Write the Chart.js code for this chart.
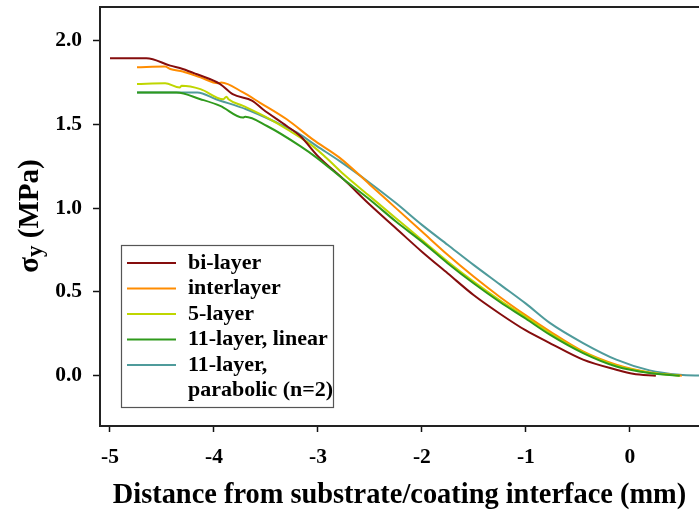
<!DOCTYPE html>
<html>
<head>
<meta charset="utf-8">
<script src="https://cdn.jsdelivr.net/npm/chart.js@4.4.1/dist/chart.umd.min.js"></script>
<style>
  html, body { margin: 0; padding: 0; background: #ffffff; }
  #wrap { width: 699px; height: 510px; }
</style>
</head>
<body>
<div id="wrap"><canvas id="c" width="699" height="510"></canvas></div>
<script>
// Normal stress sigma_y through the coating, for five grading schemes
const biX = [-5.0, -4.65, -4.42, -4.3, -4.17, -3.94, -3.82, -3.63, -3.53, -3.3, -3.17, -3.0, -2.75, -2.5, -2.25, -2.0, -1.75, -1.5, -1.25, -1.0, -0.77, -0.45, -0.13, 0.03, 0.25];
const biY = [1.894, 1.894, 1.85, 1.83, 1.80, 1.74, 1.68, 1.64, 1.59, 1.49, 1.43, 1.31, 1.17, 1.02, 0.88, 0.74, 0.61, 0.48, 0.37, 0.27, 0.195, 0.096, 0.036, 0.012, 0.0];

const interX = [-4.74, -4.47, -4.42, -4.3, -4.13, -3.96, -3.93, -3.72, -3.56, -3.3, -3.05, -2.79, -2.5, -2.25, -2.0, -1.75, -1.5, -1.25, -1.0, -0.77, -0.45, -0.13, 0.19, 0.5];
const interY = [1.84, 1.845, 1.83, 1.815, 1.78, 1.745, 1.75, 1.69, 1.63, 1.53, 1.41, 1.30, 1.14, 1.00, 0.86, 0.72, 0.59, 0.47, 0.36, 0.265, 0.145, 0.066, 0.02, 0.0];

const fiveX = [-4.74, -4.47, -4.33, -4.31, -4.13, -3.91, -3.88, -3.86, -3.72, -3.49, -3.27, -3.05, -2.92, -2.75, -2.5, -2.25, -2.0, -1.75, -1.5, -1.25, -1.0, -0.77, -0.45, -0.13, 0.19, 0.48];
const fiveY = [1.74, 1.745, 1.72, 1.73, 1.71, 1.65, 1.665, 1.65, 1.61, 1.54, 1.46, 1.37, 1.30, 1.20, 1.07, 0.94, 0.81, 0.68, 0.56, 0.45, 0.35, 0.255, 0.14, 0.06, 0.018, 0.0];

const linX = [-4.74, -4.36, -4.13, -3.94, -3.72, -3.70, -3.49, -3.17, -3.01, -2.75, -2.5, -2.25, -2.0, -1.75, -1.5, -1.25, -1.0, -0.77, -0.45, -0.13, 0.19, 0.48];
const linY = [1.69, 1.69, 1.65, 1.61, 1.54, 1.545, 1.49, 1.37, 1.30, 1.17, 1.05, 0.92, 0.80, 0.67, 0.55, 0.44, 0.34, 0.245, 0.135, 0.055, 0.016, 0.0];

const parX = [-4.74, -4.16, -3.98, -3.69, -3.43, -3.2, -3.01, -2.79, -2.5, -2.25, -2.0, -1.75, -1.5, -1.25, -1.0, -0.77, -0.45, -0.13, 0.19, 0.48, 0.7];
const parY = [1.69, 1.69, 1.65, 1.59, 1.52, 1.45, 1.37, 1.28, 1.15, 1.03, 0.90, 0.78, 0.66, 0.545, 0.43, 0.315, 0.195, 0.096, 0.032, 0.006, 0.0];

const seriesLabels = ['bi-layer', 'interlayer', '5-layer', '11-layer, linear', ['11-layer,', 'parabolic (n=2)']];
const seriesColors = ['#850d0d', '#ff8c00', '#bfd600', '#2f9a1c', '#4f9b9b'];
const drawOrder = [2, 4, 3, 1, 5];

const xTicks = [-5, -4, -3, -2, -1, 0];
const yTicks = [0, 0.5, 1.0, 1.5, 2.0];

const xs = [biX, interX, fiveX, linX, parX];
const ys = [biY, interY, fiveY, linY, parY];

const SERIF = '"Liberation Serif", "Times New Roman", serif';

function toPoints(xArr, yArr) {
  return xArr.map((x, i) => ({ x: x, y: yArr[i] }));
}

const datasets = xs.map((xArr, i) => ({
  label: Array.isArray(seriesLabels[i]) ? seriesLabels[i].join(' ') : seriesLabels[i],
  data: toPoints(xArr, ys[i]),
  borderColor: seriesColors[i],
  borderWidth: 2,
  pointRadius: 0,
  fill: false,
  cubicInterpolationMode: 'monotone',
  order: drawOrder[i]
}));

// White page, top frame line, legend box and the y-axis title with subscript
const decorations = {
  id: 'decorations',
  beforeDraw(chart) {
    const ctx = chart.ctx;
    ctx.save();
    ctx.fillStyle = '#ffffff';
    ctx.fillRect(0, 0, chart.width, chart.height);
    ctx.restore();
  },
  afterDraw(chart) {
    const ctx = chart.ctx;
    const area = chart.chartArea;
    ctx.save();
    // top frame line
    ctx.strokeStyle = '#222222';
    ctx.lineWidth = 2;
    ctx.beginPath();
    ctx.moveTo(area.left - 1, area.top);
    ctx.lineTo(area.right, area.top);
    ctx.stroke();

    // legend
    const bx = 121, by = 245, bw = 212, bh = 162;
    ctx.fillStyle = '#ffffff';
    ctx.fillRect(bx, by, bw, bh);
    ctx.strokeStyle = '#555555';
    ctx.lineWidth = 1.2;
    ctx.strokeRect(bx + 0.5, by + 0.5, bw, bh);
    ctx.font = 'bold 22px ' + SERIF;
    ctx.textBaseline = 'middle';
    ctx.textAlign = 'left';
    let rowY = 263;
    const rowStep = 25.5;
    seriesLabels.forEach((lab, i) => {
      ctx.strokeStyle = seriesColors[i];
      ctx.lineWidth = 2;
      ctx.beginPath();
      ctx.moveTo(127, rowY);
      ctx.lineTo(176, rowY);
      ctx.stroke();
      ctx.fillStyle = '#000000';
      const lines = Array.isArray(lab) ? lab : [lab];
      lines.forEach((t, k) => {
        ctx.fillText(t, 188, rowY + k * rowStep);
      });
      rowY += rowStep;
    });

    // y-axis title: sigma with subscript y
    ctx.translate(29, 216);
    ctx.rotate(-Math.PI / 2);
    ctx.fillStyle = '#000000';
    ctx.textBaseline = 'alphabetic';
    const bigFont = 'bold 29px ' + SERIF;
    const subFont = 'bold 23px ' + SERIF;
    ctx.font = bigFont;
    const wSigma = ctx.measureText('\u03c3').width;
    const wRest = ctx.measureText(' (MPa)').width;
    ctx.font = subFont;
    const wSub = ctx.measureText('y').width;
    const total = wSigma + wSub + wRest;
    let x0 = -total / 2;
    const base = 9;
    ctx.font = bigFont;
    ctx.fillText('\u03c3', x0, base);
    ctx.font = subFont;
    ctx.fillText('y', x0 + wSigma, base + 4);
    ctx.font = bigFont;
    ctx.fillText(' (MPa)', x0 + wSigma + wSub, base);
    ctx.restore();
  }
};

new Chart(document.getElementById('c'), {
  type: 'line',
  data: { datasets: datasets },
  options: {
    responsive: false,
    animation: false,
    devicePixelRatio: 1,
    layout: { padding: { top: 7, right: 0, bottom: 0, left: 0 } },
    plugins: {
      legend: { display: false },
      tooltip: { enabled: false },
      title: { display: false }
    },
    scales: {
      x: {
        type: 'linear',
        min: -5.096,
        max: 0.665,
        afterBuildTicks(scale) { scale.ticks = xTicks.map(v => ({ value: v })); },
        afterFit(scale) {
          scale.height = 84;
          scale.paddingLeft = 0;
          scale.paddingRight = 0;
        },
        grid: {
          display: true,
          drawOnChartArea: false,
          drawTicks: true,
          tickLength: 6,
          tickColor: '#111111',
          tickWidth: 1.5
        },
        border: { display: true, color: '#222222', width: 2 },
        ticks: {
          padding: 13,
          color: '#000000',
          font: { family: SERIF, size: 21.5, weight: 'bold' },
          maxRotation: 0,
          autoSkip: false,
          callback: (v) => String(v)
        },
        title: {
          display: true,
          text: 'Distance from substrate/coating interface (mm)',
          color: '#000000',
          font: { family: SERIF, size: 28.4, weight: 'bold', lineHeight: 1 },
          padding: { top: 0, bottom: 0 }
        }
      },
      y: {
        type: 'linear',
        min: -0.3,
        max: 2.2,
        afterBuildTicks(scale) { scale.ticks = yTicks.map(v => ({ value: v })); },
        afterFit(scale) {
          scale.width = 100;
          scale.paddingTop = 0;
          scale.paddingBottom = 0;
        },
        grid: {
          display: true,
          drawOnChartArea: false,
          drawTicks: true,
          tickLength: 7,
          tickColor: '#111111',
          tickWidth: 1.5
        },
        border: { display: true, color: '#222222', width: 2 },
        ticks: {
          padding: 11,
          color: '#000000',
          font: { family: SERIF, size: 21.5, weight: 'bold' },
          autoSkip: false,
          callback: (v) => Number(v).toFixed(1)
        }
      }
    }
  },
  plugins: [decorations]
});
</script>
</body>
</html>
